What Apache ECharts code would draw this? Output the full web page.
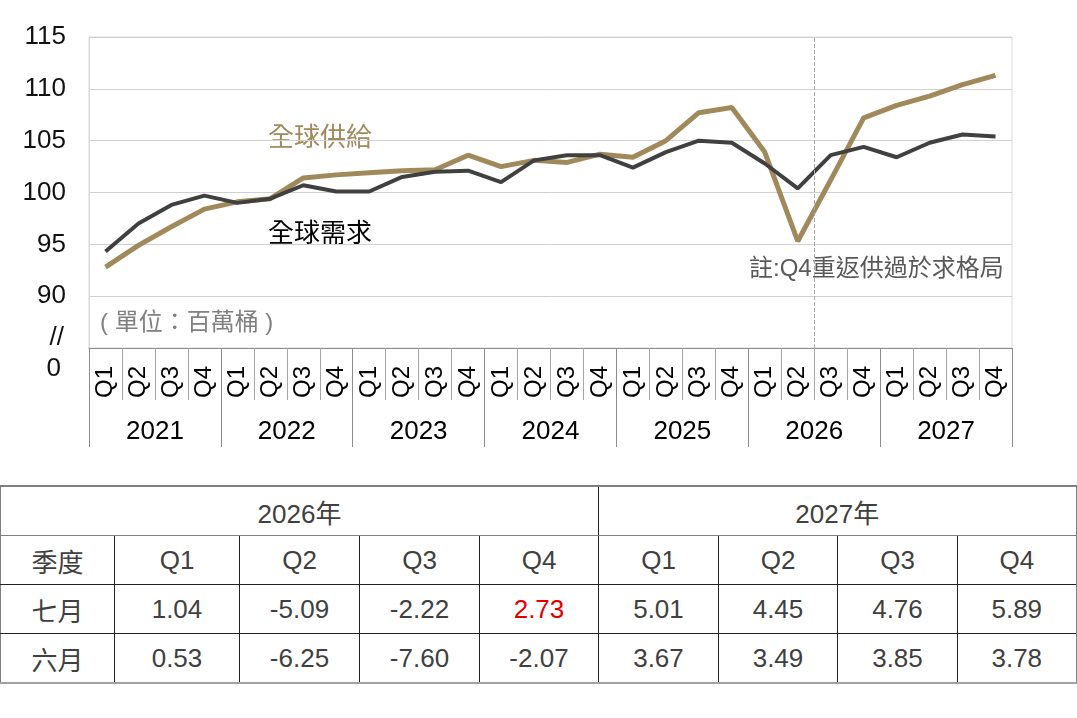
<!DOCTYPE html>
<html>
<head>
<meta charset="utf-8">
<script src="https://cdn.jsdelivr.net/npm/echarts@6/dist/echarts.min.js"></script>
<style>
  body { margin: 0; background: #fff; font-family: "Liberation Sans", "Noto Sans CJK TC", sans-serif; }
  #chart { position: absolute; left: 0; top: 0; width: 1077px; height: 470px; }
  #tbl {
    position: absolute; left: 0; top: 485px; width: 1076px;
    border-collapse: collapse; table-layout: fixed;
    color: #404040; font-size: 26px; text-align: center;
  }
  #tbl td { height: 48px; padding: 0; border: 1px solid #222; }
  #tbl tr:first-child td { border-top: 2px solid #808080; border-bottom: 1px solid #808080; }
  #tbl tr:last-child td { border-bottom: 2px solid #a0a0a0; }
  #tbl td:first-child { border-left: 1px solid #808080; }
  #tbl td:last-child { border-right: 2px solid #808080; }
  #tbl .red { color: #e00000; }
</style>
</head>
<body>
<div id="chart"></div>
<table id="tbl"></table>
<script>
const quarters = ['Q1', 'Q2', 'Q3', 'Q4']
const years = ['2021', '2022', '2023', '2024', '2025', '2026', '2027']
const quarterLabels = years.flatMap(() => quarters)

// 全球供給 / 全球需求 (百萬桶)
const supply = [
  92.8, 94.9, 96.7, 98.4, 99.1, 99.4, 101.4, 101.7, 101.9, 102.1,
  102.2, 103.6, 102.5, 103.1, 102.9, 103.7, 103.4, 105.0, 107.7, 108.2,
  103.9, 95.3, 101.2, 107.2, 108.4, 109.3, 110.4, 111.3
]
const demand = [
  94.3, 97.0, 98.8, 99.7, 99.0, 99.4, 100.7, 100.1, 100.1, 101.5,
  102.0, 102.1, 101.0, 103.1, 103.6, 103.6, 102.4, 103.9, 105.0, 104.8,
  102.8, 100.4, 103.6, 104.4, 103.4, 104.8, 105.6, 105.4
]

// 表格
const tableYears = ['2026年', '2027年']
const tableHeads = ['季度', 'Q1', 'Q2', 'Q3', 'Q4', 'Q1', 'Q2', 'Q3', 'Q4']
const julyRow = ['七月', '1.04', '-5.09', '-2.22', '2.73', '5.01', '4.45', '4.76', '5.89']
const juneRow = ['六月', '0.53', '-6.25', '-7.60', '-2.07', '3.67', '3.49', '3.85', '3.78']

const GOLD = '#a08a5c'
const DARK = '#404040'
const CJK = '"Liberation Sans", "Noto Sans CJK TC", sans-serif'

function buildTable() {
  const widths = [114, 125, 120, 120, 119, 120, 119, 120, 119]
  let html = '<colgroup>' + widths.map((w) => `<col style="width:${w}px">`).join('') + '</colgroup>'
  html += `<tr><td colspan="5">${tableYears[0]}</td><td colspan="4">${tableYears[1]}</td></tr>`
  html += '<tr>' + tableHeads.map((t) => `<td>${t}</td>`).join('') + '</tr>'
  html += '<tr>' + julyRow.map((t, i) => `<td${i === 4 ? ' class="red"' : ''}>${t}</td>`).join('') + '</tr>'
  html += '<tr>' + juneRow.map((t) => `<td>${t}</td>`).join('') + '</tr>'
  document.getElementById('tbl').innerHTML = html
}

const chart = echarts.init(document.getElementById('chart'))

function render() {
  chart.setOption({
    animation: false,
    textStyle: { fontFamily: CJK },
    grid: {
      left: 89, top: 37, width: 923, height: 311,
      show: true, borderColor: '#d9d9d9', borderWidth: 1
    },
    xAxis: [
      {
        type: 'category',
        data: quarterLabels,
        position: 'bottom',
        axisLine: { lineStyle: { color: '#8c8c8c', width: 1 } },
        axisTick: { show: true, length: 52, interval: 0, lineStyle: { color: '#a6a6a6' } },
        axisLabel: { rotate: 90, interval: 0, margin: 18, fontSize: 24, color: '#000' },
        splitLine: { show: false }
      },
      {
        type: 'category',
        data: years,
        position: 'bottom',
        axisLine: { show: false },
        axisTick: { show: true, length: 99, interval: 0, lineStyle: { color: '#8c8c8c' } },
        axisLabel: { interval: 0, margin: 71, fontSize: 26, color: '#000' },
        splitLine: { show: false }
      }
    ],
    yAxis: {
      type: 'value',
      min: 85,
      max: 115,
      interval: 5,
      axisLine: { show: true, lineStyle: { color: '#d9d9d9' } },
      axisTick: { show: false },
      axisLabel: {
        fontSize: 26,
        color: '#111',
        margin: 23,
        formatter: (v) => (v === 85 ? '' : String(v))
      },
      splitLine: { lineStyle: { color: '#d0d0d0', width: 1 } }
    },
    series: [
      {
        name: '全球需求',
        type: 'line',
        data: demand,
        symbol: 'none',
        lineStyle: { color: DARK, width: 4 },
        z: 3
      },
      {
        name: '全球供給',
        type: 'line',
        data: supply,
        symbol: 'none',
        lineStyle: { color: GOLD, width: 5 },
        z: 2
      },
      {
        // 2026 Q2/Q3 分隔虛線
        type: 'line',
        xAxisIndex: 1,
        data: [],
        markLine: {
          silent: true,
          symbol: 'none',
          label: { show: false },
          lineStyle: { type: 'dashed', color: '#a6a6a6', width: 1 },
          data: [{ xAxis: '2026' }]
        }
      }
    ],
    graphic: [
      { type: 'text', left: 268, top: 126, style: { text: '全球供給', fill: GOLD, font: '26px ' + CJK } },
      { type: 'text', left: 268, top: 222, style: { text: '全球需求', fill: '#000', font: '26px ' + CJK } },
      { type: 'text', left: 100, top: 311, style: { text: '( 單位：百萬桶 )', fill: '#808080', font: '24px ' + CJK } },
      { type: 'text', left: 749, top: 257, style: { text: '註:Q4重返供過於求格局', fill: '#595959', font: '24px ' + CJK } },
      { type: 'text', right: 1077 - 64, top: 325, style: { text: '//', fill: '#111', font: '26px ' + CJK } },
      { type: 'text', right: 1077 - 61, top: 356, style: { text: '0', fill: '#111', font: '26px ' + CJK } }
    ]
  })
}

buildTable()
render()
window.addEventListener('resize', () => chart.resize())
</script>
</body>
</html>
